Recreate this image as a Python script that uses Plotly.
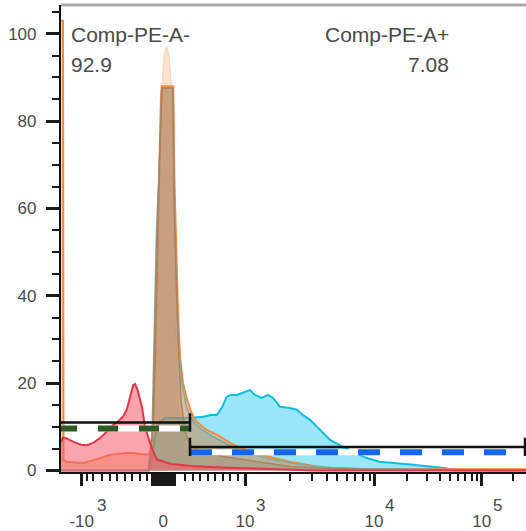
import plotly.graph_objects as go

# ---------------- data (x = display channel of the biexponential Comp-PE-A axis, y = % of max) ----------------
peach_x = [88, 95, 99, 101, 103, 105.5, 108, 110.5, 112.3, 114, 118, 125]
peach_y = [0, 20, 70, 88, 95, 97.2, 95, 88, 70, 35, 10, 0]

cyan_x = [0, 88, 91, 94, 98, 104, 115, 129, 142, 150, 155.7, 160.7, 165.7, 170, 175.7, 182, 189, 194,
          200.7, 207, 212, 219, 229, 235.7, 242, 249, 255.7, 262, 269, 278.7, 292, 305, 318.7, 335,
          352, 369, 385, 392, 465]
cyan_y = [0, 0, 3, 8, 11, 12, 12, 12, 12.3, 12.7, 12.7, 14.3, 16.9, 17.3, 17.3, 17.8, 18.4, 17.3,
          16.6, 17.3, 16.6, 14.6, 14.3, 13.9, 12.7, 11.6, 10.0, 8.6, 7.0, 5.8, 4.3, 2.9, 2.0, 1.7,
          1.3, 0.9, 0.5, 0, 0]

orange_x = [0, 2, 2.5, 6, 14, 22, 30, 39, 48, 56, 64, 72, 80, 86, 89, 92, 94, 96, 98, 100, 100.7,
            106, 112.3, 113.5, 115.7, 117, 119, 122, 125.7, 130, 134, 140, 145.7, 157, 169, 179,
            195.7, 212, 229, 245.7, 262, 290, 340, 420, 465]
orange_y = [103, 103, 2.4, 2.0, 1.8, 1.7, 2.2, 2.9, 3.5, 3.8, 4.0, 4.0, 3.8, 3.6, 4.0, 10, 25, 45,
            70, 86, 88, 88, 88, 66, 44, 36, 26, 20, 16.5, 13.5, 11.6, 10.3, 9.3, 8.1, 6.3, 5.2,
            4.0, 2.9, 2.0, 1.3, 0.6, 0.4, 0.3, 0.3, 0.3]

olive_x = [0, 87, 91, 93.5, 95.5, 98, 100, 101, 111.8, 113.3, 115.5, 118, 121, 125, 129, 134, 140,
           150, 160, 170, 180, 195, 210, 230, 250, 270, 300, 350, 400, 420, 430, 465]
olive_y = [0, 0, 8, 35, 55, 68, 84, 87.6, 87.6, 62, 40, 27, 20, 15, 12.3, 10.8, 9.5, 8.0, 6.8,
           5.6, 4.6, 3.5, 2.6, 1.7, 1.1, 0.7, 0.45, 0.3, 0.25, 0.2, 0, 0]

brown_x = [0, 88, 92, 95, 98, 100.5, 101.2, 111.8, 113.5, 117, 120, 124, 129, 140, 151, 162, 180,
           196, 215, 229, 260, 300, 380, 465]
brown_y = [0, 0, 10, 40, 68, 84, 87.6, 87.6, 58, 30, 16, 9, 5.8, 4.6, 3.8, 3.2, 2.6, 2.0, 1.4,
           0.9, 0.5, 0.3, 0.15, 0.1]

red_x = [0, 2, 5, 12, 20, 26, 32, 39, 45.7, 52, 57, 62, 65.7, 69, 72.3, 74, 76.5, 79, 81, 84, 87,
         89, 92, 96, 110, 130, 160, 200, 240, 255, 465]
red_y = [6.5, 7.5, 7.4, 6.6, 5.9, 5.8, 6.3, 7.4, 8.9, 10.4, 11.2, 12.3, 13.9, 16.6, 19.6, 19.8,
         18.5, 16.2, 14.5, 10, 7.4, 6.3, 4.5, 2.5, 1.5, 1.0, 0.7, 0.4, 0.2, 0, 0]

# gates: [start, end] in channels, level in % of max
gate_neg_range = [-4, 129]
gate_neg_level = 11.0
gate_pos_range = [129, 464]
gate_pos_level = 5.4
gate_neg_name, gate_neg_pct = "Comp-PE-A-", "92.9"
gate_pos_name, gate_pos_pct = "Comp-PE-A+", "7.08"

# axis ticks (channels of the logicle scale)
x_major_vals = [20.7, 102.3, 184, 313, 420.7]
x_major_base = ["-10", "0", "10", "10", "10"]
x_major_exp = ["3", "", "3", "4", "5"]
x_zero_cluster = [91 + 1.5 * i for i in range(16)]
x_minor_vals = [25.7, 32.3, 40.7, 49, 55.7, 64, 70.7, 79, 85.7,
                124, 132.3, 139, 147.3, 154, 162.3, 169, 177.3,
                229, 250.7, 266.3, 276.3, 285.7, 294, 302.3, 309,
                345.7, 365.7, 379, 389, 397.3, 404, 410.7, 415.7, 452]
y_major_vals = [0, 20, 40, 60, 80, 100]

FONT = "Liberation Sans, Arial, sans-serif"

fig = go.Figure()


def hist(x, y, line, fill, width=1.6):
    fig.add_trace(go.Scatter(x=x, y=y, mode="lines", fill="tozeroy", fillcolor=fill,
                             line=dict(color=line, width=width), hoverinfo="skip"))


hist(peach_x, peach_y, "rgba(248,210,180,1)", "rgba(251,226,207,1)", 1)
hist(cyan_x, cyan_y, "#10bde0", "rgba(125,223,246,0.78)", 2)
hist(orange_x, orange_y, "#f08a45", "rgba(245,150,85,0.45)", 2)
hist(olive_x, olive_y, "#80a8a0", "rgba(150,145,120,0.30)", 1.5)
hist(brown_x, brown_y, "#b0805c", "rgba(155,115,90,0.28)", 1.5)
hist(red_x, red_y, "#e03848", "rgba(245,90,105,0.55)", 2)


def gate(rng, level, dash_color, dash_pat, dash_off, end_bars):
    dy = level - dash_off
    fig.add_trace(go.Scatter(x=rng, y=[dy, dy], mode="lines",
                             line=dict(color="white", width=6), hoverinfo="skip"))
    fig.add_trace(go.Scatter(x=rng, y=[dy, dy], mode="lines",
                             line=dict(color=dash_color, width=6, dash=dash_pat), hoverinfo="skip"))
    fig.add_trace(go.Scatter(x=rng, y=[level, level], mode="lines",
                             line=dict(color="#111111", width=2.5), hoverinfo="skip"))
    for xb in end_bars:
        fig.add_trace(go.Scatter(x=[xb, xb], y=[level - 2.1, level + 2.1], mode="lines",
                                 line=dict(color="#111111", width=2.5), hoverinfo="skip"))


gate(gate_neg_range, gate_neg_level, "#2f5a22", "20px,21px", 1.4, [gate_neg_range[1]])
gate(gate_pos_range, gate_pos_level, "#1565ee", "22px,20px", 1.2, gate_pos_range)

# gate labels
fig.add_annotation(x=0.0172, y=0.936, xref="paper", yref="paper", text=gate_neg_name,
                   showarrow=False, xanchor="left", yanchor="middle",
                   font=dict(size=21, family=FONT, color="#4a4a4a"))
fig.add_annotation(x=0.0172, y=0.872, xref="paper", yref="paper", text=gate_neg_pct,
                   showarrow=False, xanchor="left", yanchor="middle",
                   font=dict(size=21, family=FONT, color="#4a4a4a"))
fig.add_annotation(x=0.8387, y=0.936, xref="paper", yref="paper", text=gate_pos_name,
                   showarrow=False, xanchor="right", yanchor="middle",
                   font=dict(size=21, family=FONT, color="#4a4a4a"))
fig.add_annotation(x=0.8387, y=0.872, xref="paper", yref="paper", text=gate_pos_pct,
                   showarrow=False, xanchor="right", yanchor="middle",
                   font=dict(size=21, family=FONT, color="#4a4a4a"))

# exponents of the decade labels
for v, b, e in zip(x_major_vals, x_major_base, x_major_exp):
    if e:
        fig.add_annotation(x=v, y=-0.071, xref="x", yref="paper", text=e, showarrow=False,
                           xanchor="left", yanchor="middle", xshift=len(b) * 4.9 - 1,
                           font=dict(size=17, family=FONT, color="#4a4a4a"))

# top frame line
fig.add_shape(type="line", xref="paper", yref="paper", x0=0, x1=1, y0=1, y1=1,
              line=dict(color="#a8a8a8", width=3))

tickvals = x_major_vals + [v for v in x_zero_cluster if abs(v - 102.3) > 0.6]
ticktext = x_major_base + ["" for v in x_zero_cluster if abs(v - 102.3) > 0.6]

fig.update_xaxes(range=[0, 465], tickmode="array", tickvals=tickvals, ticktext=ticktext,
                 ticks="outside", ticklen=12, tickwidth=2.5, tickcolor="#1a1a1a",
                 showline=True, linecolor="#111111", linewidth=2.2, showgrid=False,
                 zeroline=False, tickfont=dict(size=17, family=FONT, color="#4a4a4a"),
                 ticklabelstandoff=20,
                 minor=dict(tickmode="array", tickvals=x_minor_vals, ticks="outside",
                            ticklen=7, tickwidth=1.5, tickcolor="#1a1a1a", showgrid=False))
fig.update_yaxes(range=[-0.35, 106.6], tickmode="array", tickvals=y_major_vals,
                 ticks="outside", ticklen=13, tickwidth=2.5, tickcolor="#1a1a1a",
                 showline=True, linecolor="#111111", linewidth=2.2, showgrid=False,
                 zeroline=False, tickfont=dict(size=17, family=FONT, color="#4a4a4a"),
                 ticklabelstandoff=6,
                 minor=dict(tickmode="linear", tick0=0, dtick=5, ticks="outside",
                            ticklen=6.5, tickwidth=1.5, tickcolor="#1a1a1a", showgrid=False))

fig.update_layout(width=526, height=531, margin=dict(l=61, r=0, t=5, b=59),
                  plot_bgcolor="white", paper_bgcolor="white", showlegend=False,
                  font=dict(family=FONT, color="#4a4a4a"))

fig.write_html("out.html")
